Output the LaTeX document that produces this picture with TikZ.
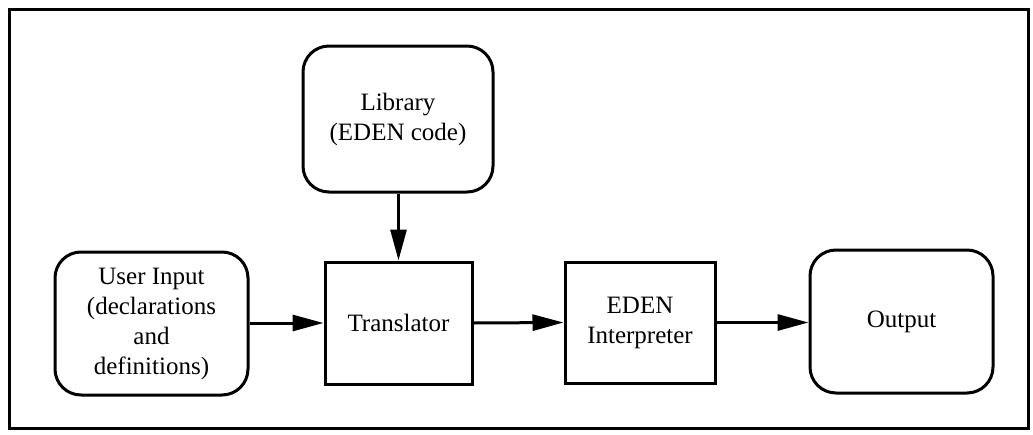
\documentclass[tikz,border=0pt]{standalone}
\usepackage{fontspec}
\setmainfont{Liberation Serif}
\usetikzlibrary{arrows.meta}
\begin{document}
\begin{tikzpicture}[x=1pt,y=-1pt,
  every node/.style={font=\fontsize{25}{30}\selectfont, align=center, inner sep=0pt},
  roundbox/.style={draw, line width=3pt, rounded corners=26pt},
  squarebox/.style={draw, line width=3pt},
  flow/.style={line width=3pt, -{Triangle[length=31pt,width=16pt]}}]
  \useasboundingbox (0,0) rectangle (1033,434);
  % outer frame
  \draw[line width=2.5pt] (9.5,9.5) rectangle (1028.5,428.5);
  % blocks
  \node[roundbox, minimum width=193pt, minimum height=143pt] (user) at (151.5,323.5)
    {User Input\\(declarations\\and\\definitions)};
  \node[roundbox, minimum width=190pt, minimum height=146pt] (lib) at (398,119)
    {Library\\(EDEN code)};
  \node[squarebox, minimum width=147pt, minimum height=122pt] (trans) at (398.5,323)
    {Translator};
  \node[squarebox, minimum width=150pt, minimum height=121pt] (eden) at (640,322.5)
    {EDEN\\Interpreter};
  \node[roundbox, minimum width=183pt, minimum height=143pt] (out) at (901.5,321.5)
    {Output};
  % connectors
  \draw[flow] (lib.south -| trans.north) -- (trans.north);
  \draw[flow] (user.east |- trans.west) -- (trans.west);
  \draw[flow] (trans.east) -- (eden.west);
  \draw[flow] (eden.east) -- (out.west |- eden.east);
\end{tikzpicture}
\end{document}
